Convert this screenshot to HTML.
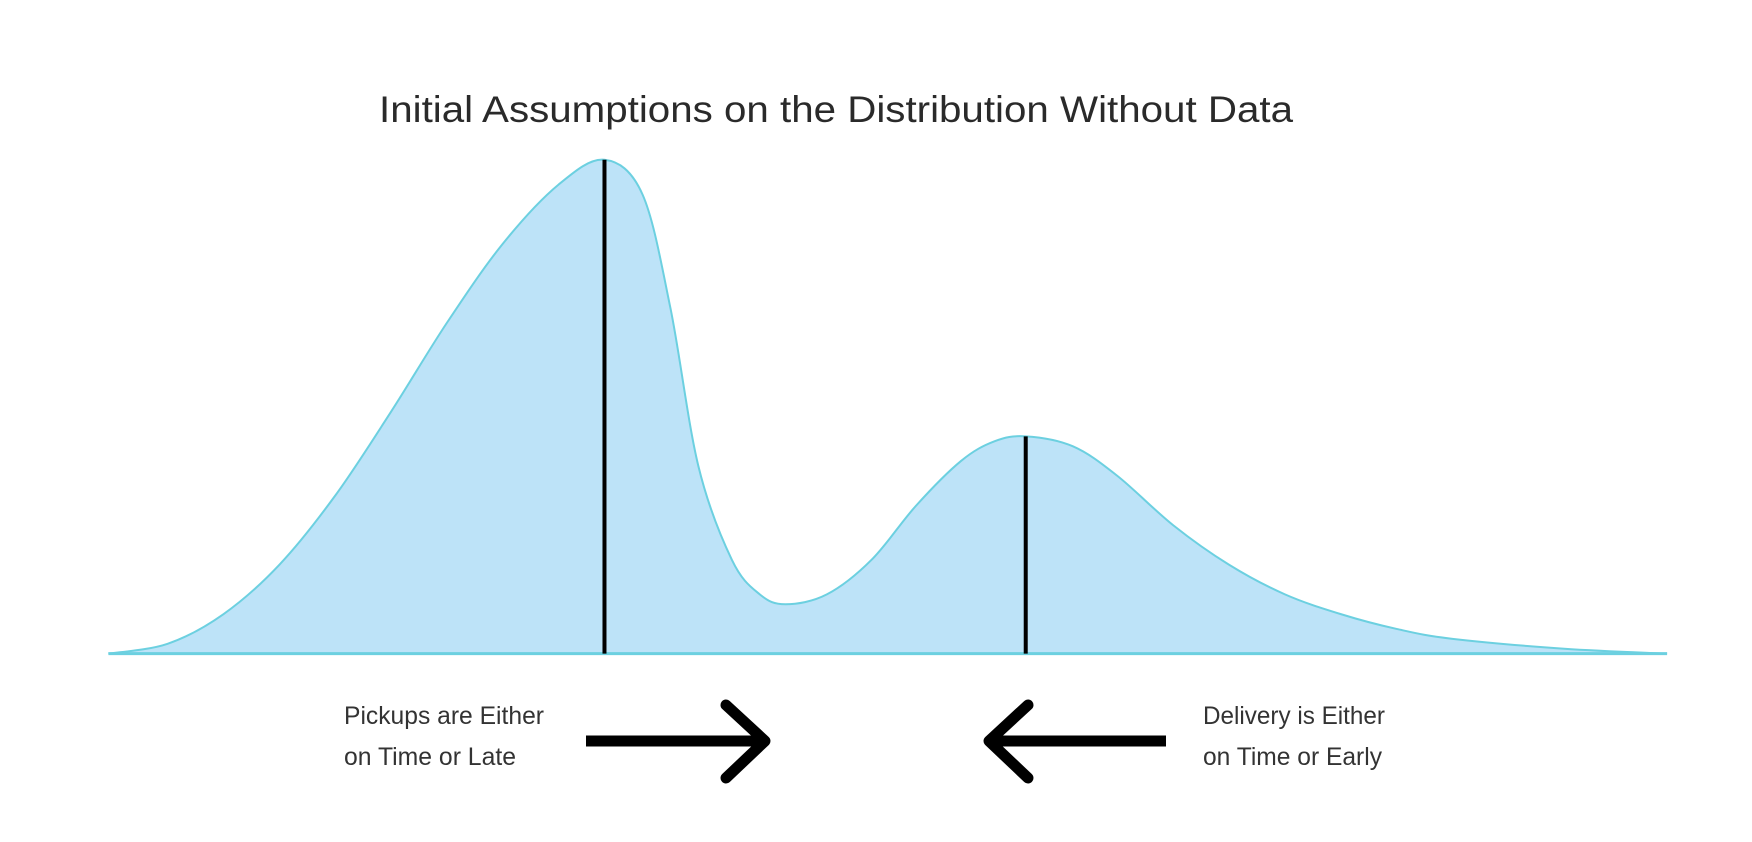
<!DOCTYPE html>
<html><head><meta charset="utf-8"><style>
html,body{margin:0;padding:0;background:#fff;}
svg{display:block;}
</style></head><body>
<svg id="chart" width="1752" height="842" viewBox="0 0 1752 842" xmlns="http://www.w3.org/2000/svg">
<rect width="1752" height="842" fill="#fff"/>
<text x="836" y="122" text-anchor="middle" font-family="Liberation Sans, sans-serif" font-size="37" fill="#2a2a2a" textLength="914" lengthAdjust="spacingAndGlyphs">Initial Assumptions on the Distribution Without Data</text>
<g id="plot"></g>
<text x="344" y="724" font-family="Liberation Sans, sans-serif" font-size="25" fill="#333" textLength="200" lengthAdjust="spacingAndGlyphs">Pickups are Either</text>
<text x="344" y="765" font-family="Liberation Sans, sans-serif" font-size="25" fill="#333" textLength="172" lengthAdjust="spacingAndGlyphs">on Time or Late</text>
<text x="1203" y="724" font-family="Liberation Sans, sans-serif" font-size="25" fill="#333" textLength="182" lengthAdjust="spacingAndGlyphs">Delivery is Either</text>
<text x="1203" y="765" font-family="Liberation Sans, sans-serif" font-size="25" fill="#333" textLength="179" lengthAdjust="spacingAndGlyphs">on Time or Early</text>
<g stroke="#000" stroke-width="11" fill="none" stroke-linecap="round" stroke-linejoin="round">
<line x1="586" y1="741" x2="762" y2="741" stroke-linecap="butt"/>
<polyline points="726,705 765,741 726,778"/>
</g>
<g stroke="#000" stroke-width="11" fill="none" stroke-linecap="round" stroke-linejoin="round">
<line x1="991" y1="741" x2="1166" y2="741" stroke-linecap="butt"/>
<polyline points="1028,705 989,741 1028,778"/>
</g>
</svg>
<script>
const xValues = [97,150,200,250,300,350,400,450,500,541,575,600,625,655,680,703,740,780,820,860,890,918,960,1000,1050,1100,1150,1200,1250,1300,1400,1492];
const densities = [0,0.02,0.08,0.18,0.32,0.49,0.67,0.83,0.95,1.0,0.93,0.70,0.38,0.19,0.12,0.10,0.12,0.19,0.30,0.39,0.43,0.44,0.42,0.36,0.26,0.18,0.12,0.08,0.05,0.03,0.01,0];
const modeXs = [541,918];
const modeDensities = [1.0,0.44];

const S = 1752/1568;
const xScale = v => v*S;
const baseY = 585*S, topY = 143*S;
const yScale = d => baseY - d*(baseY-topY);
const ns = 'http://www.w3.org/2000/svg';
const plot = document.getElementById('plot');
const pts = xValues.map((x,i)=>[xScale(x), yScale(densities[i])]);
function smooth(p){
  let d = `M${p[0][0]},${p[0][1]}`;
  for(let i=0;i<p.length-1;i++){
    const p0=p[Math.max(0,i-1)],p1=p[i],p2=p[i+1],p3=p[Math.min(p.length-1,i+2)];
    const c1=[p1[0]+(p2[0]-p0[0])/6,p1[1]+(p2[1]-p0[1])/6];
    const c2=[p2[0]-(p3[0]-p1[0])/6,p2[1]-(p3[1]-p1[1])/6];
    d+=` C${c1[0]},${c1[1]} ${c2[0]},${c2[1]} ${p2[0]},${p2[1]}`;
  }
  return d;
}
const curve = smooth(pts);
const area = document.createElementNS(ns,'path');
area.setAttribute('d', curve + ` L${pts[pts.length-1][0]},${baseY} L${pts[0][0]},${baseY} Z`);
area.setAttribute('fill','#bde3f8');
area.setAttribute('stroke','none');


plot.appendChild(area);
const line = document.createElementNS(ns,'path');
line.setAttribute('d', curve);
line.setAttribute('fill','none');
line.setAttribute('stroke','#6cd0e0');
line.setAttribute('stroke-width','2');


plot.appendChild(line);
const base = document.createElementNS(ns,'line');
base.setAttribute('x1', xScale(97)); base.setAttribute('x2', xScale(1492));
base.setAttribute('y1', baseY); base.setAttribute('y2', baseY);
base.setAttribute('stroke','#6cd0e0'); base.setAttribute('stroke-width','3');


plot.appendChild(base);
modeXs.forEach((m,i)=>{
  const l = document.createElementNS(ns,'line');
  l.setAttribute('x1', xScale(m)); l.setAttribute('x2', xScale(m));
  l.setAttribute('y1', yScale(modeDensities[i])); l.setAttribute('y2', baseY);
  l.setAttribute('stroke','#000'); l.setAttribute('stroke-width','4');
  
  
  plot.appendChild(l);
});
</script>
</body></html>
